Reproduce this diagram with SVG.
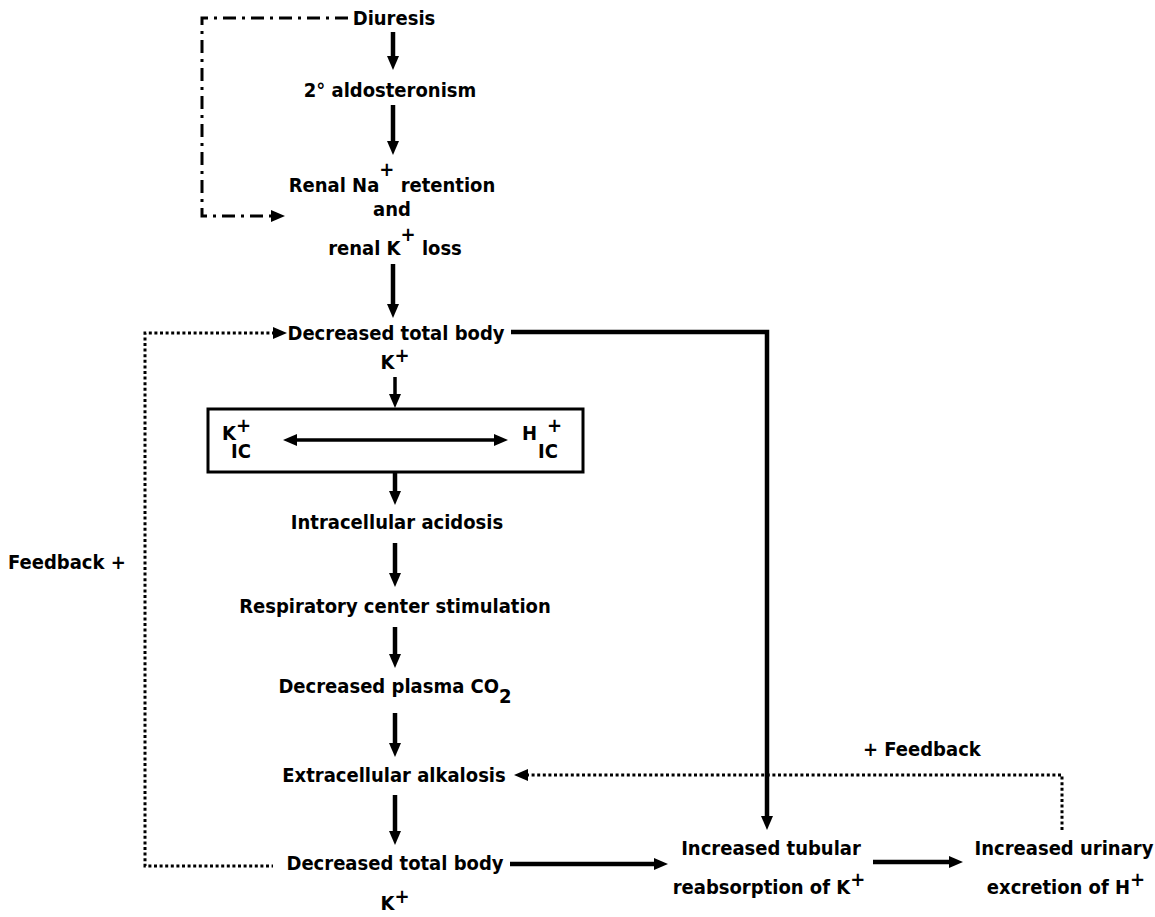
<svg xmlns="http://www.w3.org/2000/svg" width="1155" height="917" viewBox="0 0 1155 917">
<style>
text{font-family:"DejaVu Sans Condensed","DejaVu Sans",sans-serif;font-size:20px;font-weight:bold;fill:#000}
.c{text-anchor:middle}
.thick{stroke:#000;stroke-width:4.5;fill:none}
.mid{stroke:#000;stroke-width:3.5;fill:none}
.dot{stroke:#000;stroke-width:3;fill:none;stroke-dasharray:3 2.6}
.dd{stroke:#000;stroke-width:3;fill:none;stroke-dasharray:13 6 3 6}
</style>
<defs>
<marker id="ah" markerUnits="userSpaceOnUse" markerWidth="16" markerHeight="12" refX="2" refY="6" orient="auto">
<path d="M0,0 L14,6 L0,12 z" fill="#000"/>
</marker>
<marker id="ahs" markerUnits="userSpaceOnUse" markerWidth="16" markerHeight="12" refX="2" refY="6" orient="auto-start-reverse">
<path d="M0,0 L14,6 L0,12 z" fill="#000"/>
</marker>
</defs>
<g id="connectors">
<line class="thick" x1="393" y1="32" x2="393" y2="58" marker-end="url(#ah)"/>
<line class="thick" x1="393" y1="105" x2="393" y2="143" marker-end="url(#ah)"/>
<line class="thick" x1="393" y1="264" x2="393" y2="306" marker-end="url(#ah)"/>
<line class="mid" x1="395" y1="377" x2="395" y2="396" marker-end="url(#ah)"/>
<line class="thick" x1="395" y1="472" x2="395" y2="493" marker-end="url(#ah)"/>
<line class="thick" x1="395" y1="543" x2="395" y2="575" marker-end="url(#ah)"/>
<line class="thick" x1="395" y1="627" x2="395" y2="656" marker-end="url(#ah)"/>
<line class="thick" x1="395" y1="713" x2="395" y2="745" marker-end="url(#ah)"/>
<line class="thick" x1="395" y1="795" x2="395" y2="833" marker-end="url(#ah)"/>
<polyline class="dd" points="348,18 202,18 202,216 273,216" marker-end="url(#ah)"/>
<polyline class="dot" points="275,333 145,333 145,866 273,866" marker-start="url(#ahs)"/>
<polyline class="thick" points="511,332 767,332 767,818" marker-end="url(#ah)"/>
<line class="thick" x1="510" y1="864" x2="656" y2="864" marker-end="url(#ah)"/>
<line class="thick" x1="873" y1="862" x2="951" y2="862" marker-end="url(#ah)"/>
<line class="mid" x1="295" y1="440" x2="496" y2="440" marker-start="url(#ahs)" marker-end="url(#ah)"/>
<polyline class="dot" points="526,775 1062,775 1062,831" marker-start="url(#ahs)"/>
</g>
<g id="n-diuresis"><text class="c" x="394" y="25">Diuresis</text></g>
<g id="n-aldo"><text class="c" x="390" y="97">2° aldosteronism</text></g>
<g id="n-renal">
<text class="c" x="392" y="192">Renal Na<tspan dy="-16">+</tspan><tspan dy="16"> retention</tspan></text>
<text class="c" x="392" y="216">and</text>
<text class="c" x="395" y="255">renal K<tspan dy="-14">+</tspan><tspan dy="14"> loss</tspan></text>
</g>
<g id="n-dtb1">
<text class="c" x="396" y="340">Decreased total body</text>
<text class="c" x="395" y="369">K<tspan dy="-7">+</tspan></text>
</g>
<g id="n-box">
<rect x="208" y="409" width="375" height="63" fill="none" stroke="#000" stroke-width="3"/>
<text x="222" y="440">K</text>
<text x="231" y="458">IC</text>
<text x="236" y="432">+</text>
<text x="522" y="440">H</text>
<text x="538" y="458">IC</text>
<text x="547" y="432">+</text>
</g>
<g id="n-ica"><text class="c" x="397" y="529">Intracellular acidosis</text></g>
<g id="n-resp"><text class="c" x="395" y="613">Respiratory center stimulation</text></g>
<g id="n-co2"><text class="c" x="395" y="693">Decreased plasma CO<tspan dy="10">2</tspan></text></g>
<g id="n-eca"><text class="c" x="394" y="782">Extracellular alkalosis</text></g>
<g id="n-dtb2">
<text class="c" x="395" y="870">Decreased total body</text>
<text class="c" x="395" y="910">K<tspan dy="-7">+</tspan></text>
</g>
<g id="n-fb1"><text x="8" y="569">Feedback +</text></g>
<g id="n-fb2"><text x="863" y="756">+ Feedback</text></g>
<g id="n-tub">
<text class="c" x="771" y="855">Increased tubular</text>
<text class="c" x="769" y="894">reabsorption of K<tspan dy="-8">+</tspan></text>
</g>
<g id="n-uri">
<text class="c" x="1064" y="855">Increased urinary</text>
<text class="c" x="1066" y="894">excretion of H<tspan dy="-8">+</tspan></text>
</g>
</svg>
